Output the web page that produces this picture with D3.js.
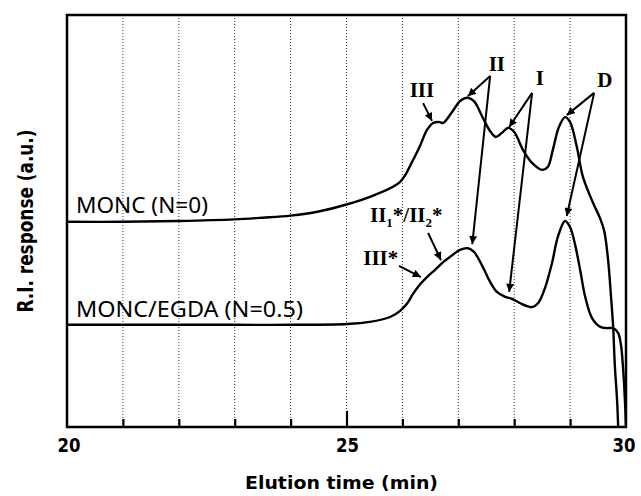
<!DOCTYPE html>
<html><head><meta charset="utf-8">
<script src="https://cdn.jsdelivr.net/npm/d3@7"></script>
<style>html,body{margin:0;padding:0;background:#fff;} svg{display:block;}</style>
</head><body><svg id="c" width="641" height="496"></svg>
<script>
// ---- data ----
const timeN0 = [20.00,21.00,22.00,23.00,23.50,24.00,24.50,25.00,25.50,25.96,26.19,26.32,26.44,26.55,26.67,26.73,26.91,27.03,27.16,27.28,27.44,27.57,27.67,27.78,27.89,28.00,28.16,28.32,28.50,28.60,28.69,28.80,28.91,29.00,29.12,29.23,29.41,29.535,29.61,29.68,29.73,29.77,29.80,29.84,29.86];
const respN0 = [49.8,49.8,50.0,50.4,50.8,51.3,52.3,54.0,56.3,59.5,64.8,68.4,72.1,73.8,74.0,73.8,76.9,79.1,79.9,79.1,75.0,71.8,70.4,71.4,72.6,71.6,67.2,64.1,62.4,63.1,67.2,72.8,75.2,74.0,68.0,60.7,54.4,50.7,47.6,40.5,32.0,24.3,15.0,6.6,0.0];
const timeN05 = [20.00,21.00,23.00,24.00,25.01,25.42,25.78,25.96,26.08,26.19,26.32,26.44,26.58,26.73,26.89,27.03,27.17,27.28,27.44,27.57,27.69,27.84,27.96,28.10,28.32,28.43,28.55,28.68,28.78,28.91,29.00,29.09,29.18,29.27,29.39,29.54,29.66,29.77,29.86,29.91,29.95,29.98,30.00];
const respN05 = [24.8,24.8,24.8,24.8,25.0,25.5,26.7,28.2,29.9,32.3,34.7,36.4,38.1,40.0,41.7,43.0,43.4,42.5,38.8,35.2,32.8,31.6,31.1,30.1,29.1,30.1,33.7,40.0,46.1,50.0,48.5,44.2,38.1,31.6,26.5,24.3,24.0,24.0,22.8,19.9,13.8,6.6,0.0];
const seriesNames = ["MONC (N=0)", "MONC/EGDA (N=0.5)"];
const seriesLabelAt = [[20.16, 51.9], [20.16, 26.7]];
const gridTimes = [21,22,23,24,25,26,27,28,29];
const tickTimes = [21,22,23,24,25,26,27,28,29];
const tickLabels = [20,25,30];
const xTitle = "Elution time (min)";
const yTitle = "R.I. response (a.u.)";
// annotations: label anchor (t, v) and arrows [t0,v0,t1,v1]
const annoLabels = ["III","II","I","D"];
const annoAt = [[26.35,80.1],[27.69,86.4],[28.46,83.0],[29.62,82.5]];
const annoArrows = [
  [[26.37,78.6,26.53,74.3]],
  [[27.57,85.2,27.17,80.3],[27.57,85.2,27.25,44.4]],
  [[28.32,81.1,27.91,72.8],[28.32,81.1,27.91,32.8]],
  [[29.43,81.1,28.94,75.7],[29.43,81.1,28.94,51.2]]
];
const starAt = [[25.42,49.8],[25.30,39.3]];
const starArrows = [[26.46,47.1,26.69,40.5],[25.94,39.1,26.33,36.4]];

// ---- layout ----
const svg = d3.select("#c");
const L = 67, R = 626, T = 15, B = 427;
const x = d3.scaleLinear().domain([20,30]).range([L,R]);
const y = d3.scaleLinear().domain([0,100]).range([B,T]);

svg.append("defs").append("clipPath").attr("id","clip")
  .append("rect").attr("x",L).attr("y",T).attr("width",R-L).attr("height",B-T);
const mk = svg.select("defs").append("marker").attr("id","ah")
  .attr("viewBox","0 0 10 10").attr("refX",10).attr("refY",5)
  .attr("markerWidth",11).attr("markerHeight",8).attr("markerUnits","userSpaceOnUse")
  .attr("orient","auto");
mk.append("path").attr("d","M0,0 L10,5 L0,10 z").attr("fill","#000");

// grid
svg.append("g").selectAll("line").data(gridTimes).join("line")
  .attr("x1",d=>x(d)).attr("x2",d=>x(d)).attr("y1",T).attr("y2",B)
  .attr("stroke","#333").attr("stroke-width",1).attr("stroke-dasharray","1,2");

// ticks (inward)
const xAxis = d3.axisTop(x).tickValues(tickTimes).tickSize(0).tickFormat("");
svg.append("g").attr("transform",`translate(0,${B})`).call(xAxis).call(g=>g.select(".domain").remove())
  .selectAll(".tick line").attr("y2",d=>d===25?-16:-8).attr("stroke","#000").attr("stroke-width",2.2);

// tick labels
svg.append("g").selectAll("text").data(tickLabels).join("text")
  .attr("x",d=>x(d)+ (d===20?2:(d===30?-2:1))).attr("y",452)
  .attr("text-anchor","middle").attr("font-family","DejaVu Sans").attr("font-weight","bold")
  .attr("font-size",20).attr("textLength",23).attr("lengthAdjust","spacingAndGlyphs")
  .text(d=>d);

// axis titles
svg.append("text").attr("x",(L+R)/2 - 5).attr("y",489).attr("text-anchor","middle")
  .attr("font-family","DejaVu Sans").attr("font-weight","bold").attr("font-size",18)
  .attr("textLength",193).attr("lengthAdjust","spacingAndGlyphs").text(xTitle);
svg.append("text").attr("transform","translate(33,221) rotate(-90)").attr("text-anchor","middle")
  .attr("font-family","DejaVu Sans").attr("font-weight","bold").attr("font-size",21)
  .attr("textLength",183).attr("lengthAdjust","spacingAndGlyphs").text(yTitle);

// curves
const line = d3.line().x(d=>x(d[0])).y(d=>y(d[1])).curve(d3.curveCatmullRom.alpha(0.5));
const curves = [d3.zip(timeN0,respN0), d3.zip(timeN05,respN05)];
svg.append("g").attr("clip-path","url(#clip)").selectAll("path").data(curves).join("path")
  .attr("d",line).attr("fill","none").attr("stroke","#000").attr("stroke-width",2.4)
  .attr("stroke-linejoin","round");

// series labels
const sLen = [132,227];
svg.append("g").selectAll("text").data(seriesNames).join("text")
  .attr("x",(d,i)=>x(seriesLabelAt[i][0])).attr("y",(d,i)=>y(seriesLabelAt[i][1]))
  .attr("font-family","Noto Sans").attr("font-size",22)
  .attr("textLength",(d,i)=>sLen[i]).attr("lengthAdjust","spacingAndGlyphs")
  .text(d=>d);

// annotations
const ag = svg.append("g").attr("font-family","Liberation Serif").attr("font-weight","bold").attr("font-size",21);
ag.selectAll("text.a").data(annoLabels).join("text").attr("class","a")
  .attr("x",(d,i)=>x(annoAt[i][0])).attr("y",(d,i)=>y(annoAt[i][1]))
  .attr("text-anchor","middle").text(d=>d);
const allArrows = annoArrows.flat().concat(starArrows);
ag.selectAll("line").data(allArrows).join("line")
  .attr("x1",d=>x(d[0])).attr("y1",d=>y(d[1])).attr("x2",d=>x(d[2])).attr("y2",d=>y(d[3]))
  .attr("stroke","#000").attr("stroke-width",2).attr("marker-end","url(#ah)");

// II1*/II2*
const t1 = ag.append("text").attr("x",x(starAt[0][0])).attr("y",y(starAt[0][1]));
t1.append("tspan").text("II");
t1.append("tspan").attr("font-size",13).attr("dy",5).text("1");
t1.append("tspan").attr("dy",-5).text("*/II");
t1.append("tspan").attr("font-size",13).attr("dy",5).text("2");
t1.append("tspan").attr("dy",-5).text("*");
ag.append("text").attr("x",x(starAt[1][0])).attr("y",y(starAt[1][1])).text("III*");

// frame
svg.append("rect").attr("x",L).attr("y",T).attr("width",R-L).attr("height",B-T)
  .attr("fill","none").attr("stroke","#000").attr("stroke-width",2.5);
</script></body></html>
